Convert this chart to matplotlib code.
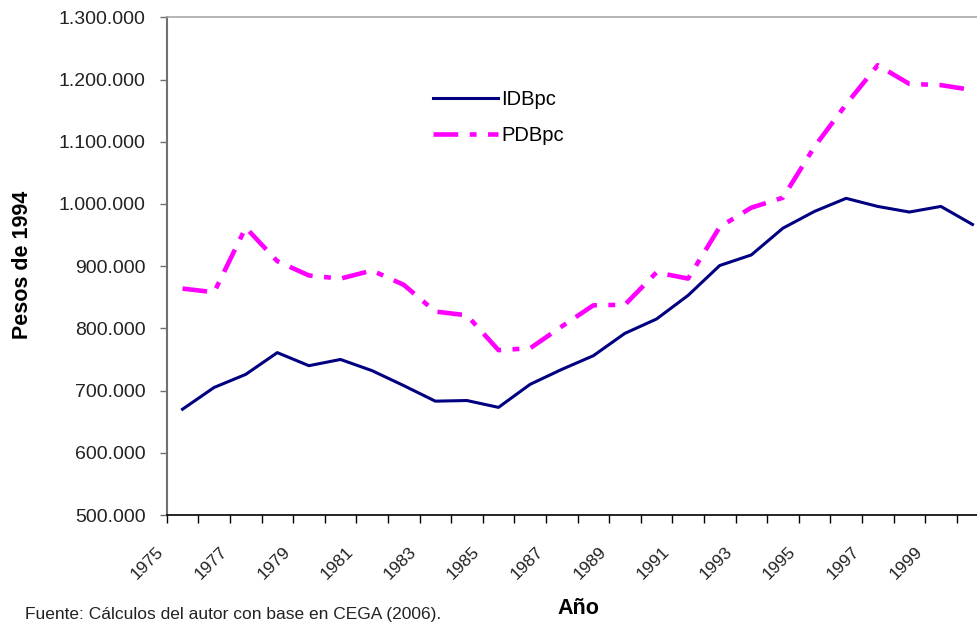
import matplotlib
matplotlib.use('Agg')
import matplotlib.pyplot as plt
import numpy as np
from matplotlib.ticker import FuncFormatter

plt.rcParams['font.family'] = ['Liberation Sans', 'DejaVu Sans']

years = list(range(1975, 2001))
idbpc = [670, 705, 726, 761, 740, 750, 732, 708, 683, 684, 673, 710, 734,
         756, 792, 815, 853, 901, 918, 961, 988, 1009, 996, 987, 996, 967]
pdbpc = [864, 858, 962, 908, 885, 880, 893, 870, 827, 821, 765, 768, 803,
         837, 838, 890, 880, 963, 994, 1010, 1092, 1160, 1223, 1193, 1191, 1183]
yticks = np.arange(500, 1301, 100)

fig = plt.figure(figsize=(9.77, 6.22), dpi=100)
# plot area runs past the right edge, as in the cropped original
ax = fig.add_axes([166.7 / 977, 107 / 622, 821.6 / 977, 497.7 / 622])

x = np.arange(len(years))
ax.plot(x, idbpc, color='#000080', lw=2.2, label='IDBpc', solid_joinstyle='round')
ax.plot(x, pdbpc, color='#FF00FF', lw=3.3, label='PDBpc',
        dashes=(5.4, 2.5, 1.5, 2.5), dash_capstyle='butt')

ax.set_xlim(-0.5, len(years) - 0.5)
ax.set_ylim(500, 1300)

# y axis
ax.set_yticks(yticks)
ax.yaxis.set_major_formatter(FuncFormatter(lambda v, p: f"{v*1000:,.0f}".replace(',', '.')))
ax.tick_params(axis='y', direction='out', length=5, width=1, color='#707070',
               labelsize=14, pad=10, labelcolor='#222222')

# x axis: tick marks on category edges, labels every 2 years
edges = np.arange(len(years) + 1) - 0.5
labels = [str(years[i]) if i < len(years) and i % 2 == 0 else '' for i in range(len(edges))]
ax.set_xticks(edges)
ax.set_xticklabels(labels, rotation=45, ha='right', va='top')
ax.tick_params(axis='x', direction='out', length=6, width=1, color='black',
               labelsize=12.5, pad=15, labelcolor='#222222')

ax.spines['left'].set_color('#707070')
ax.spines['left'].set_linewidth(1.5)
ax.spines['bottom'].set_color('black')
ax.spines['bottom'].set_linewidth(1.2)
ax.spines['top'].set_color('#a8a8a8')
ax.spines['top'].set_linewidth(1.2)
ax.spines['right'].set_visible(False)

ax.legend(loc='upper left', bbox_to_anchor=(433 / 977, 1 - 90 / 622),
          bbox_transform=fig.transFigure, frameon=False, fontsize=14.5,
          handlelength=3.25, handletextpad=0.15, labelspacing=0.85, borderpad=0,
          borderaxespad=0)

fig.text(23 / 977, 1 - 265 / 622, 'Pesos de 1994', rotation=90, fontsize=15.5,
         fontweight='bold', ha='center', va='center')
fig.text(578 / 977, 1 - 609 / 622, 'Año', fontsize=15.5, fontweight='bold',
         ha='center', va='center')
fig.text(25 / 977, 1 - 614 / 622, 'Fuente: Cálculos del autor con base en CEGA (2006).',
         fontsize=12.5, ha='left', va='center', color='#222222')

fig.savefig('out.png', dpi=100)
